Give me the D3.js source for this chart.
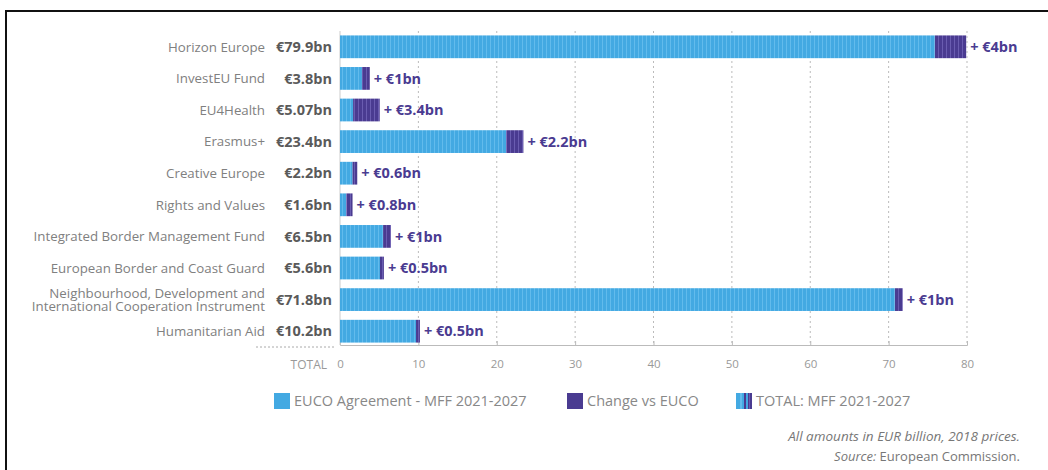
<!DOCTYPE html>
<html>
<head>
<meta charset="utf-8">
<script src="https://cdn.jsdelivr.net/npm/d3@7"></script>
<style>
  html, body { margin: 0; padding: 0; background: #fff; }
  svg { display: block; font-family: "Open Sans", "DejaVu Sans", sans-serif; }
</style>
</head>
<body>
<svg id="chart" width="1048" height="470"></svg>
<script>
const categories = [
  "Horizon Europe", "InvestEU Fund", "EU4Health", "Erasmus+", "Creative Europe",
  "Rights and Values", "Integrated Border Management Fund", "European Border and Coast Guard",
  "Neighbourhood, Development and\nInternational Cooperation Instrument", "Humanitarian Aid"
];
const totalValues = [79.9, 3.8, 5.07, 23.4, 2.2, 1.6, 6.5, 5.6, 71.8, 10.2];
const changeValues = [4, 1, 3.4, 2.2, 0.6, 0.8, 1, 0.5, 1, 0.5];
const totalLabels = ["€79.9bn", "€3.8bn", "€5.07bn", "€23.4bn", "€2.2bn", "€1.6bn", "€6.5bn", "€5.6bn", "€71.8bn", "€10.2bn"];
const changeLabels = ["+ €4bn", "+ €1bn", "+ €3.4bn", "+ €2.2bn", "+ €0.6bn", "+ €0.8bn", "+ €1bn", "+ €0.5bn", "+ €1bn", "+ €0.5bn"];
const xTicks = [0, 10, 20, 30, 40, 50, 60, 70, 80];
const legendLabels = ["EUCO Agreement - MFF 2021-2027", "Change vs EUCO", "TOTAL: MFF 2021-2027"];

const data = categories.map((c, i) => ({
  cat: c, total: totalValues[i], change: changeValues[i],
  euco: +(totalValues[i] - changeValues[i]).toFixed(2),
  totalLabel: totalLabels[i], changeLabel: changeLabels[i]
}));

const BLUE = "#43a9e2", BLUE_L = "#62bbec";
const PURPLE = "#4a3b91", PURPLE_L = "#6a5cb0";

const svg = d3.select("#chart");
const defs = svg.append("defs");
function stripe(id, base, light) {
  const p = defs.append("pattern").attr("id", id).attr("patternUnits", "userSpaceOnUse")
    .attr("width", 4).attr("height", 4);
  p.append("rect").attr("width", 4).attr("height", 4).attr("fill", base);
  p.append("rect").attr("x", 2).attr("width", 1).attr("height", 4).attr("fill", light);
}
stripe("stripeBlue", BLUE, BLUE_L);
stripe("stripePurple", PURPLE, PURPLE_L);

// frame
svg.append("rect").attr("x", 6).attr("y", 11).attr("width", 1060).attr("height", 480)
  .attr("fill", "none").attr("stroke", "#111").attr("stroke-width", 2);

const x = d3.scaleLinear().domain([0, 80]).range([340, 967]);
const y = d3.scaleBand().domain(categories).range([31, 347]).paddingInner(0.28).paddingOuter(0.14);

// gridlines
svg.append("g").selectAll("line").data(xTicks.slice(1)).join("line")
  .attr("x1", d => x(d)).attr("x2", d => x(d))
  .attr("y1", 31).attr("y2", 345)
  .attr("stroke", "#bbb").attr("stroke-width", 1).attr("stroke-dasharray", "2,3");

// axis
const axisG = svg.append("g").attr("transform", "translate(0,345)")
  .call(d3.axisBottom(x).tickValues(xTicks).tickSize(-4).tickPadding(15));
axisG.select(".domain").attr("stroke", "#bbb");
axisG.selectAll(".tick line").attr("stroke", "#bbb");
axisG.selectAll(".tick text").attr("fill", "#999").attr("font-size", 11.5)
  .attr("font-family", "'Open Sans', sans-serif");

// left axis line
svg.append("line").attr("x1", 340).attr("x2", 340).attr("y1", 31).attr("y2", 345)
  .attr("stroke", "#ccc");

// bars
const rows = svg.append("g").selectAll("g").data(data).join("g");
rows.append("rect")
  .attr("x", x(0)).attr("y", d => y(d.cat))
  .attr("width", d => x(d.euco) - x(0)).attr("height", y.bandwidth())
  .attr("fill", "url(#stripeBlue)");
rows.append("rect")
  .attr("x", d => x(d.euco)).attr("y", d => y(d.cat))
  .attr("width", d => x(d.total) - x(d.euco)).attr("height", y.bandwidth())
  .attr("fill", "url(#stripePurple)");
rows.append("text")
  .attr("x", d => x(d.total) + 4).attr("y", d => y(d.cat) + y.bandwidth() / 2)
  .attr("dy", "0.36em").attr("font-size", 14.5).attr("font-weight", 700)
  .attr("fill", PURPLE).text(d => d.changeLabel);

// category labels
rows.append("text")
  .attr("x", 265).attr("y", d => y(d.cat) + y.bandwidth() / 2)
  .attr("text-anchor", "end").attr("font-size", 13.3).attr("fill", "#808080")
  .each(function(d) {
    const lines = d.cat.split("\n");
    const t = d3.select(this);
    lines.forEach((l, k) => {
      t.append("tspan").attr("x", 265)
        .attr("dy", k === 0 ? (0.36 - (lines.length - 1) * 0.5) + "em" : "0.98em")
        .text(l);
    });
  });
rows.append("text")
  .attr("x", 332).attr("y", d => y(d.cat) + y.bandwidth() / 2)
  .attr("dy", "0.36em").attr("text-anchor", "end")
  .attr("font-size", 14.5).attr("font-weight", 700).attr("fill", "#5a5a5a")
  .text(d => d.totalLabel);

// TOTAL row
svg.append("line").attr("x1", 256).attr("x2", 334).attr("y1", 347).attr("y2", 347)
  .attr("stroke", "#aaa").attr("stroke-dasharray", "2,2");
svg.append("text").attr("x", 327).attr("y", 369).attr("text-anchor", "end")
  .attr("font-size", 12).attr("fill", "#999").text("TOTAL");

// legend
const leg = defs.append("pattern").attr("id", "legendMix").attr("patternUnits", "userSpaceOnUse")
  .attr("x", 736).attr("width", 16).attr("height", 16);
leg.append("rect").attr("width", 16).attr("height", 16).attr("fill", BLUE);
leg.append("rect").attr("x", 4).attr("width", 2).attr("height", 16).attr("fill", BLUE_L);
leg.append("rect").attr("x", 8).attr("width", 2).attr("height", 16).attr("fill", PURPLE);
leg.append("rect").attr("x", 12).attr("width", 4).attr("height", 16).attr("fill", PURPLE);
leg.append("rect").attr("x", 13).attr("width", 1).attr("height", 16).attr("fill", PURPLE_L);

const legendItems = [
  { x: 274, fill: BLUE, label: legendLabels[0] },
  { x: 567, fill: PURPLE, label: legendLabels[1] },
  { x: 736, fill: "url(#legendMix)", label: legendLabels[2] }
];
const lg = svg.append("g").selectAll("g").data(legendItems).join("g");
lg.append("rect").attr("x", d => d.x).attr("y", 393).attr("width", 16).attr("height", 16)
  .attr("fill", d => d.fill);
lg.append("text").attr("x", d => d.x + 20).attr("y", 401).attr("dy", "0.36em")
  .attr("font-size", 14.5).attr("fill", "#888").text(d => d.label);

// footnotes
svg.append("text").attr("x", 1020).attr("y", 441).attr("text-anchor", "end")
  .attr("font-size", 13.5).attr("font-style", "italic").attr("fill", "#777")
  .text("All amounts in EUR billion, 2018 prices.");
const src = svg.append("text").attr("x", 1020).attr("y", 461).attr("text-anchor", "end")
  .attr("font-size", 13).attr("fill", "#777");
src.append("tspan").attr("font-style", "italic").text("Source: ");
src.append("tspan").text("European Commission.");
</script>
</body>
</html>
